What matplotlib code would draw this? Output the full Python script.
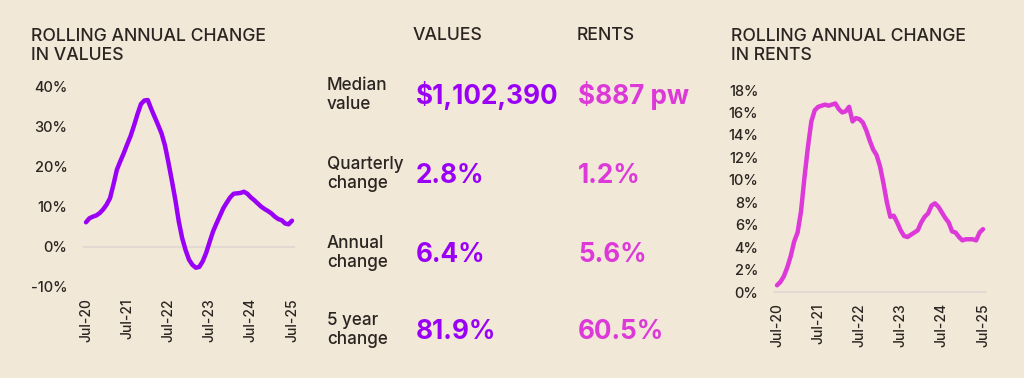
import matplotlib
matplotlib.use("Agg")
import matplotlib.pyplot as plt
import numpy as np

plt.rcParams['font.family'] = ['Inter', 'DejaVu Sans']

# ---- data ----
x_ticks_labels = ["Jul-20", "Jul-21", "Jul-22", "Jul-23", "Jul-24", "Jul-25"]

values_change = [6.1, 7.1, 7.5, 7.8, 8.4, 9.3, 10.5, 12.1, 15.5, 19.2, 21.3, 23.3,
                 25.5, 27.6, 30.2, 33.0, 35.5, 36.4, 36.5, 34.3, 32.3, 30.3, 28.2, 25.2,
                 21.0, 16.5, 11.8, 6.4, 2.2, -0.8, -3.2, -4.5, -5.2, -5.0, -3.6, -1.5,
                 1.2, 3.8, 5.8, 7.7, 9.6, 11.0, 12.3, 13.2, 13.3, 13.4, 13.7, 13.2,
                 12.3, 11.6, 10.8, 10.0, 9.4, 8.9, 8.3, 7.5, 6.9, 6.6, 5.8, 5.6, 6.5]

rents_change = [0.6, 0.9, 1.4, 2.2, 3.2, 4.5, 5.3, 7.2, 10.2, 12.9, 15.2, 16.2,
                16.5, 16.6, 16.7, 16.6, 16.7, 16.8, 16.3, 16.0, 16.1, 16.5, 15.2, 15.5,
                15.4, 15.1, 14.4, 13.5, 12.7, 12.2, 11.2, 9.7, 8.0, 6.7, 6.8, 6.2,
                5.5, 5.0, 4.9, 5.1, 5.3, 5.5, 6.2, 6.7, 7.0, 7.7, 7.9, 7.6,
                7.1, 6.6, 6.2, 5.4, 5.3, 4.9, 4.6, 4.7, 4.7, 4.7, 4.6, 5.3, 5.6]

row_labels = ["Median\nvalue", "Quarterly\nchange", "Annual\nchange", "5 year\nchange"]
values_col = ["$1,102,390", "2.8%", "6.4%", "81.9%"]
rents_col = ["$887 pw", "1.2%", "5.6%", "60.5%"]

BG = "#F2E8D8"
TXT = "#2B2521"
PURPLE = "#9A00F5"
PINK = "#DD38D8"
ZERO = "#E2D9D2"

W, H = 1024, 378
fig = plt.figure(figsize=(W / 100, H / 100), dpi=100, facecolor=BG)


def fx(px):
    return px / W


def fy(py):
    return 1 - py / H


def setup_ax(ax, yticks, ylabels, color, data, ylim):
    ax.set_facecolor(BG)
    months = np.arange(len(data))
    ax.axhline(0, color=ZERO, lw=1.5, zorder=1, xmin=-0.01, xmax=1.01, clip_on=False)
    ax.plot(months, data, color=color, lw=3.2, solid_capstyle='round',
            solid_joinstyle='round', clip_on=False, zorder=3)
    ax.set_xlim(0, 60)
    ax.set_ylim(*ylim)
    ax.set_xticks(np.arange(0, 61, 12))
    ax.set_xticklabels(x_ticks_labels, rotation=90, fontsize=10, color=TXT,
                       fontweight=500)
    ax.set_yticks(yticks)
    ax.set_yticklabels(ylabels, fontsize=10.5, color=TXT, fontweight=500)
    for s in ax.spines.values():
        s.set_visible(False)
    ax.tick_params(axis='both', length=0)
    ax.tick_params(axis='y', pad=13.5)
    ax.tick_params(axis='x', pad=8)


# Left chart
axL = fig.add_axes([fx(86), fy(287), fx(206), (287 - 86) / H])
setup_ax(axL, [-10, 0, 10, 20, 30, 40], ["-10%", "0%", "10%", "20%", "30%", "40%"],
         PURPLE, values_change, (-10, 40))

# Right chart
axR = fig.add_axes([fx(777), fy(292), fx(206), (292 - 90) / H])
setup_ax(axR, list(range(0, 19, 2)), [f"{v}%" for v in range(0, 19, 2)],
         PINK, rents_change, (0, 18))

# Titles
for x0, t in [(31, "ROLLING ANNUAL CHANGE\nIN VALUES"), (731, "ROLLING ANNUAL CHANGE\nIN RENTS")]:
    fig.text(fx(x0), fy(60), t, fontsize=12.7, fontweight=500,
             color=TXT, ha='left', va='baseline', linespacing=1.12)

# Middle table
fig.text(fx(413), fy(40), "VALUES", fontsize=12.7, fontweight=500, color=TXT,
         ha='left', va='baseline')
fig.text(fx(577), fy(40), "RENTS", fontsize=12.7, fontweight=500, color=TXT,
         ha='left', va='baseline')

row_base = [104, 183, 262, 339]
for lab, v, r, b in zip(row_labels, values_col, rents_col, row_base):
    l1, l2 = lab.split("\n")
    fig.text(fx(327), fy(b - 14), l1, fontsize=12.3, fontweight=500, color=TXT,
             ha='left', va='baseline')
    fig.text(fx(327), fy(b + 5), l2, fontsize=12.3, fontweight=500, color=TXT,
             ha='left', va='baseline')
    fig.text(fx(416), fy(b), v, fontsize=18.8, fontweight='bold', color=PURPLE,
             ha='left', va='baseline')
    fig.text(fx(578), fy(b), r, fontsize=18.8, fontweight='bold', color=PINK,
             ha='left', va='baseline')

fig.savefig("out.png", dpi=100, facecolor=BG)
